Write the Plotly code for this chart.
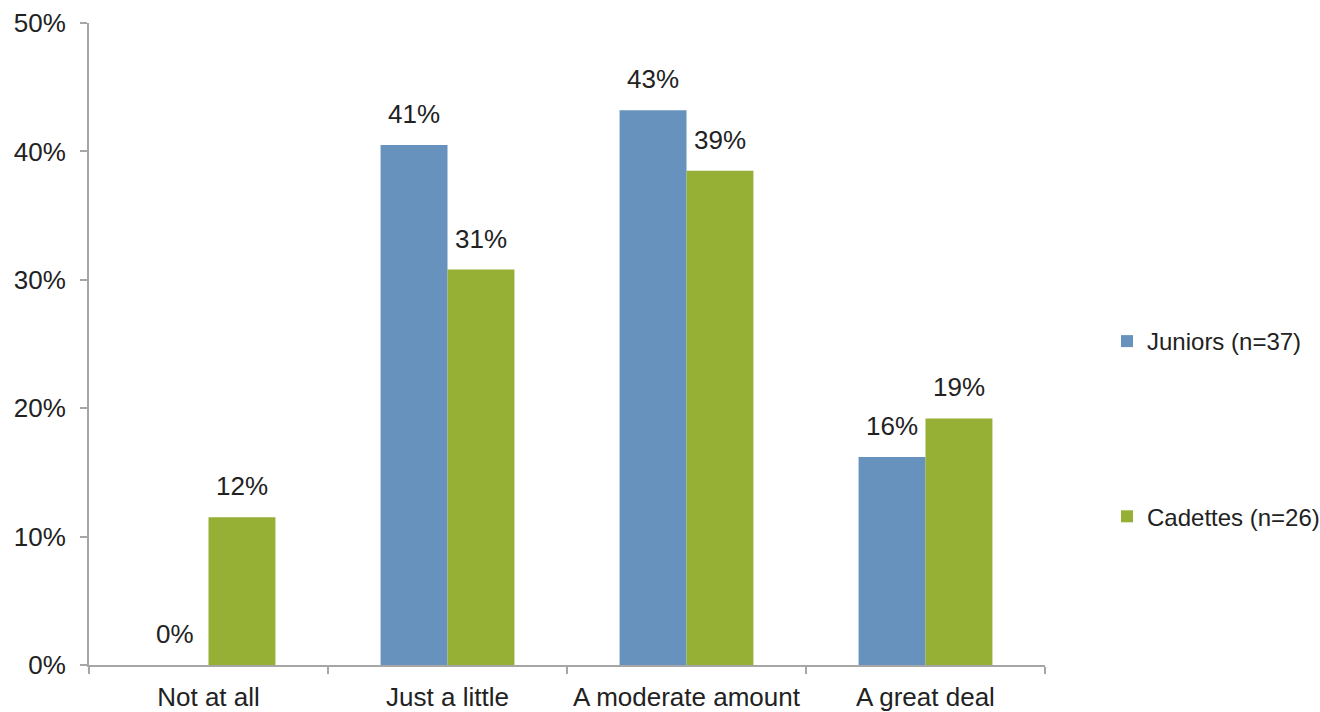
import plotly.graph_objects as go

# Survey responses by group (percent of respondents)
categories = ["Not at all", "Just a little", "A moderate amount", "A great deal"]
juniors = [0.0, 40.5, 43.2, 16.2]
cadettes = [11.5, 30.8, 38.5, 19.2]
series_names = ["Juniors (n=37)", "Cadettes (n=26)"]
y_ticks = [0, 10, 20, 30, 40, 50]

BLUE = "#6792BD"
GREEN = "#95B035"
TEXT = "#222222"
AXIS = "#A6A6A6"
FONT = "Liberation Sans, Arial, sans-serif"

W, H = 1320, 712
M = dict(l=89, r=275, t=23, b=47)
plot_w = W - M["l"] - M["r"]
cat_w = plot_w / len(categories)
bargap = 0.44
bar_w = cat_w * (1 - bargap) / 2


def pct_label(v):
    return f"{int(v + 0.5)}%"


fig = go.Figure()
for name, vals, color, grp in [
    (series_names[0], juniors, BLUE, "a"),
    (series_names[1], cadettes, GREEN, "b"),
]:
    fig.add_trace(go.Bar(
        x=categories, y=vals, name=name, marker_color=color,
        marker_line_width=0, legendgroup=grp,
    ))

# value labels above each bar
annotations = []
for vals, shift in [(juniors, -bar_w / 2), (cadettes, bar_w / 2)]:
    for cat, v in zip(categories, vals):
        annotations.append(dict(
            x=cat, y=v, xref="x", yref="y", text=pct_label(v),
            showarrow=False, xanchor="center", yanchor="bottom",
            xshift=shift, yshift=14,
            font=dict(family=FONT, size=26, color=TEXT),
        ))

fig.update_layout(
    width=W, height=H, margin=M,
    paper_bgcolor="white", plot_bgcolor="white",
    barmode="group", bargap=bargap, bargroupgap=0,
    font=dict(family=FONT, size=26, color=TEXT),
    annotations=annotations,
    showlegend=True,
    legend=dict(
        xref="container", yref="container",
        x=1107 / W, xanchor="left",
        y=1 - 319 / H, yanchor="top",
        font=dict(family=FONT, size=24, color=TEXT),
        tracegroupgap=141, bgcolor="rgba(0,0,0,0)",
    ),
    xaxis=dict(
        showgrid=False, showline=True, linecolor=AXIS, linewidth=2,
        ticks="outside", tickson="boundaries", ticklen=7, tickwidth=2,
        tickcolor=AXIS, tickfont=dict(family=FONT, size=26, color=TEXT),
        tickangle=0, automargin=False, zeroline=False,
        ticklabelstandoff=8,
    ),
    yaxis=dict(
        range=[0, 50], tickvals=y_ticks, ticktext=[f"{t}%" for t in y_ticks],
        showgrid=False, showline=True, linecolor=AXIS, linewidth=2,
        ticks="outside", ticklen=7, tickwidth=2, tickcolor=AXIS,
        tickfont=dict(family=FONT, size=26, color=TEXT),
        automargin=False, zeroline=False, ticklabelstandoff=9,
    ),
)

fig.write_html("out.html")
